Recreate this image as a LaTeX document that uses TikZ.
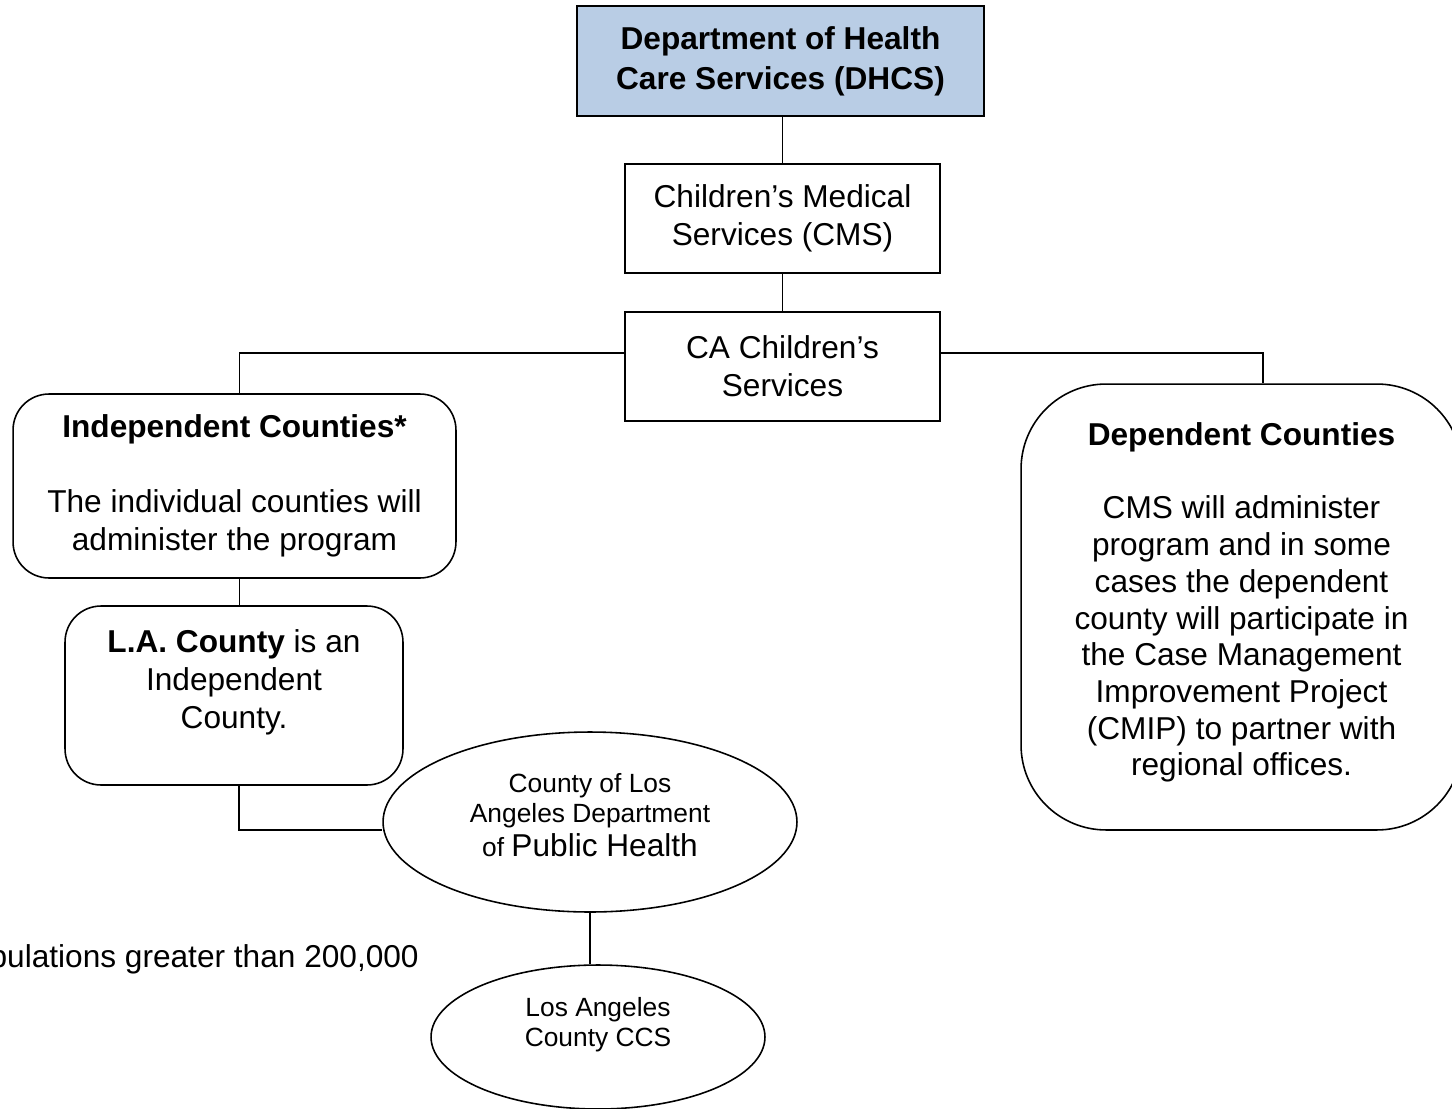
\documentclass[tikz,border=0pt]{standalone}
\usepackage{fontspec}
\setmainfont{Liberation Sans}
\usepackage{tikz}
\usetikzlibrary{shapes.geometric,positioning}
\definecolor{dhcsblue}{RGB}{185,205,229}
\tikzset{
  unit/.style={
    shape = rectangle,
    draw,
    line width = 0.9pt,
    align = center,
    inner sep = 0pt
  },
}
\tikzset{
  roundunit/.style={
    unit,
    rounded corners = 0.72cm
  },
}
\tikzset{
  oval/.style={
    shape = ellipse,
    draw,
    line width = 0.9pt,
    inner sep = 0pt
  },
  txt/.style={
    align = center,
    inner sep = 0pt
  },
  small/.style={
    font = \fontsize{15}{17}\selectfont
  },
  link/.style={
    line width = 0.9pt
  }
}

\begin{document}
\begin{tikzpicture}[x=0.02cm, y=-0.02cm, font=\fontsize{18}{21.6}\selectfont]
        \useasboundingbox (0,0) rectangle (1452,1108);
        \clip (0,0) rectangle (1452,1108);

        % top of the chart
        \node[unit, fill=dhcsblue, minimum width=8.14cm, minimum height=2.2cm] (dhcs) at (780.5,61) {\textbf{Department of Health}\\[1.2pt]\textbf{Care Services (DHCS)}};
        \node[unit, minimum width=6.3cm, minimum height=2.18cm] (cms) at (782.5,218.5) {Children’s Medical\\Services (CMS)};
        \node[unit, minimum width=6.3cm, minimum height=2.18cm] (ccs) at (782.5,366.5) {CA Children’s\\Services};

        % the two kinds of counties
        \node[roundunit, minimum width=8.86cm, minimum height=3.68cm] (indep) at (234.5,486) {\textbf{Independent Counties*}\\[21pt]The individual counties will\\administer the program};
        \node[unit, rounded corners=1.7cm, minimum width=8.82cm, minimum height=8.92cm, font=\fontsize{18}{20.9}\selectfont] (dep) at (1241.5,607) {\textbf{Dependent Counties}\\[21pt]CMS will administer\\program and in some\\cases the dependent\\county will participate in\\the Case Management\\Improvement Project\\(CMIP) to partner with\\regional offices.\\[-12pt]\mbox{}};

        \node[roundunit, minimum width=6.76cm, minimum height=3.58cm] (labox) at (234,695.5) {};
        \node[txt] (latext) at (234,682) {\textbf{L.A. County} is an\\Independent\\County.};

        \node[oval, minimum width=8.28cm, minimum height=3.6cm] (dph) at (590,822) {};
        \node[txt, small] (dphtext) at (590,815) {County of Los\\Angeles Department\\[2.5pt]of {\fontsize{18}{21.6}\selectfont Public Health}};

        \node[oval, minimum width=6.68cm, minimum height=2.88cm] (laccs) at (598,1037) {};
        \node[txt, small] (laccstext) at (598,1025) {Los Angeles\\County CCS};

        \node[txt, anchor=east] (note) at (419,959) {pulations greater than 200,000};

        % connectors
        \draw[link] (cms.north) -- (cms.north |- dhcs.south);
        \draw[link] (ccs.north) -- (ccs.north |- cms.south);
        \draw[link] ([yshift=0.27cm]ccs.west) -| ([xshift=0.1cm]indep.north);
        \draw[link] ([yshift=0.27cm]ccs.east) -| ([xshift=0.43cm]dep.north);
        \draw[link] ([xshift=0.1cm]indep.south) -- ([xshift=0.1cm]indep.south |- labox.north);
        \draw[link] ([xshift=0.1cm]labox.south) |- ([yshift=-0.16cm]dph.west);
        \draw[link] (dph.south) -- (dph.south |- laccs.north);
\end{tikzpicture}
\end{document}
